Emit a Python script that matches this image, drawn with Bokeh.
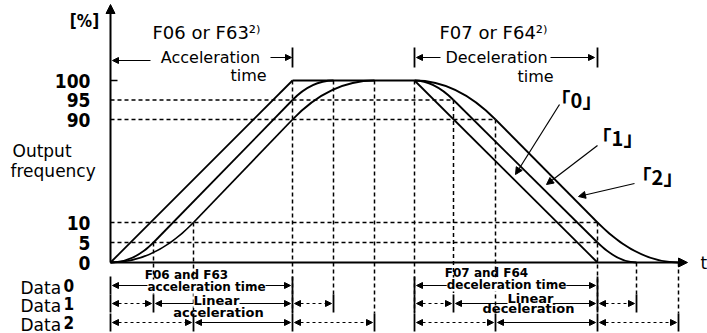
import numpy as np
from bokeh.plotting import figure
from bokeh.models import Range1d, Label, Arrow, NormalHead
from bokeh.core.properties import value
from bokeh.embed import file_html
from bokeh.resources import INLINE

# ---------------- data ----------------
# output-frequency ticks (percent) on the broken vertical axis
pct_ticks = [0, 5, 10, 90, 95, 100]
pct_labels = ["0", "5", "10", "90", "95", "100"]
# broken-axis scale: percent -> drawing units (lower band, gap, upper band)
scale_pct = [0, 10, 90, 100]
scale_units = [0, 40, 143, 182]

# time knots of each characteristic (Data 0 / 1 / 2) and their percent values
acc0_t, acc0_pct = [0, 182], [0, 100]
acc1_t, acc1_pct = [0, 43, 182, 223], [0, 5, 95, 100]
acc2_t, acc2_pct = [0, 83, 182, 264], [0, 10, 90, 100]
dec0_t, dec0_pct = [304, 487], [100, 0]
dec1_t, dec1_pct = [304, 343, 487, 526], [100, 95, 5, 0]
dec2_t, dec2_pct = [304, 385, 487, 568], [100, 90, 10, 0]

row_names = ["Data", "Data", "Data"]
row_digits = ["0", "1", "2"]
curve_tags = ["「0」", "「1」", "「2」"]

# ---------------- helpers ----------------
def Y(pc):
    return float(np.interp(pc, scale_pct, scale_units))

SANS = "DejaVu Sans"
NARROW = "DejaVu Sans Condensed, Roboto"

p = figure(width=707, height=333, x_range=Range1d(-110, 597), y_range=Range1d(-71, 262),
           output_backend="svg", toolbar_location=None, min_border=0)
p.xaxis.visible = False
p.yaxis.visible = False
p.grid.visible = False
p.outline_line_color = None
p.background_fill_color = "white"
p.border_fill_color = "white"

LW = 1.8
DASH = "4 3"

def draw_curve(ts, ps):
    ys = [Y(v) for v in ps]
    if len(ts) == 2:
        p.line(ts, ys, line_color="black", line_width=LW)
        return
    a, b, c, d = ts
    y0, y1, y2, y3 = ys
    slope = (y2 - y1) / (c - b)
    p.line([b, c], [y1, y2], line_color="black", line_width=LW)
    p.quadratic(x0=[a], y0=[y0], x1=[b], y1=[y1], cx=[b - (y1 - y0) / slope], cy=[y0],
                line_color="black", line_width=LW)
    p.quadratic(x0=[c], y0=[y2], x1=[d], y1=[y3], cx=[c + (y3 - y2) / slope], cy=[y3],
                line_color="black", line_width=LW)

rows_y = [-23, -41, -60]
curves = [(acc0_t, acc0_pct, dec0_t, dec0_pct),
          (acc1_t, acc1_pct, dec1_t, dec1_pct),
          (acc2_t, acc2_pct, dec2_t, dec2_pct)]

# ---- dashed guide lines ----
vert = {}
horiz = {}
for k, (at, ap, dt, dp) in enumerate(curves):
    for ts, ps in ((at, ap), (dt, dp)):
        for t, pc in zip(ts, ps):
            if t == 0:
                continue
            top, bot = vert.get(t, (-1e9, 1e9))
            vert[t] = (max(top, Y(pc)), min(bot, rows_y[k] + 9))
            if pc not in (0, 100):
                horiz[pc] = max(horiz.get(pc, 0), t)
for t, (top, bot) in vert.items():
    p.line([t, t], [top, bot], line_color="black", line_width=1.5, line_dash=DASH)
for pc, t in horiz.items():
    p.line([0, t], [Y(pc), Y(pc)], line_color="black", line_width=1.5, line_dash=DASH)

# ---- curves ----
for at, ap, dt, dp in curves:
    draw_curve(at, ap)
    draw_curve(dt, dp)
p.line([acc0_t[-1], dec0_t[0]], [Y(100), Y(100)], line_color="black", line_width=LW)

# ---- axes (drawn) ----
p.add_layout(Arrow(x_start=0, y_start=0, x_end=0, y_end=258, line_width=2,
                   end=NormalHead(size=9, fill_color="black", line_color="black")))
p.add_layout(Arrow(x_start=0, y_start=0, x_end=577, y_end=0, line_width=2,
                   end=NormalHead(size=9, fill_color="black", line_color="black")))
p.line([0, 7], [Y(100), Y(100)], line_color="black", line_width=1.5)
p.text(x=[-20] * len(pct_ticks), y=[Y(v) for v in pct_ticks], text=pct_labels,
       text_align="right", text_baseline="middle", text_font=value(NARROW),
       text_font_style="bold", text_font_size="19px", text_color="black")
p.text(x=[590], y=[0], text=["t"], text_align="left", text_baseline="middle",
       text_font=value(SANS), text_font_size="17px", text_color="black")

def harrow(x0, x1, y, dashed=False, both=True, lw=1.2):
    kw = dict(x_start=x0, y_start=y, x_end=x1, y_end=y, line_width=lw,
              end=NormalHead(size=6, fill_color="black", line_color="black", line_width=1))
    if both:
        kw["start"] = NormalHead(size=6, fill_color="black", line_color="black", line_width=1)
    else:
        kw["start"] = None
    if dashed:
        kw["line_dash"] = "3 3"
    p.add_layout(Arrow(**kw))

def bar(x, y, h=9):
    p.line([x, x], [y - h, y + h], line_color="black", line_width=1.8)

# ---- rows (Data0 / Data1 / Data2) ----
for k, (at, ap, dt, dp) in enumerate(curves):
    ry = rows_y[k]
    for ts in (at, dt):
        for t in ts:
            bar(t, ry)
        if len(ts) == 2:
            harrow(ts[0] + 2, ts[1] - 2, ry)
        else:
            harrow(ts[0] + 2, ts[1] - 2, ry, dashed=True)
            harrow(ts[1] + 2, ts[2] - 2, ry)
            harrow(ts[2] + 2, ts[3] - 2, ry, dashed=True)

def lab(x, y, text, size="12px", bold=True, font=SANS, align="center", bg=False, **extra):
    kw = dict(x=x, y=y, text=text, text_font=font, text_font_size=size,
              text_font_style="bold" if bold else "normal", text_align=align,
              text_baseline="middle", text_color="black")
    if bg:
        kw.update(background_fill_color="white", background_fill_alpha=1.0)
    kw.update(extra)
    p.add_layout(Label(**kw))

lab(76, rows_y[0] + 11, "F06 and F63", "12px")
lab(96, rows_y[0] - 1, "acceleration time", "12px", bg=True)
lab(376, rows_y[0] + 13, "F07 and F64", "12px")
lab(396, rows_y[0] + 1, "deceleration time", "12px", bg=True)
lab(106, rows_y[1] + 3, "Linear", "13px", bg=True)
lab(108, rows_y[1] - 9, "acceleration", "13px")
lab(420, rows_y[1] + 5, "Linear", "13px", bg=True)
lab(418, rows_y[1] - 5, "deceleration", "13px")

# ---- top annotations ----
lab(96, 230, "F06 or F63²⁾", "18px", bold=False)
lab(100, 205, "Acceleration", "16px", bold=False)
lab(138, 187, "time", "16px", bold=False)
harrow(40, 2, 202, both=False, lw=1)
harrow(160, acc0_t[-1] - 1, 205, both=False, lw=1)
p.line([acc0_t[-1], acc0_t[-1]], [195, 215], line_color="black", line_width=1.8)

lab(383, 230, "F07 or F64²⁾", "18px", bold=False)
lab(386, 205, "Deceleration", "16px", bold=False)
lab(425, 186, "time", "16px", bold=False)
p.line([dec0_t[0], dec0_t[0]], [195, 215], line_color="black", line_width=1.8)
harrow(330, dec0_t[0] + 2, 205, both=False, lw=1)
harrow(440, dec0_t[-1] - 3, 205, both=False, lw=1)
p.line([dec0_t[-1], dec0_t[-1]], [195, 215], line_color="black", line_width=1.8)

# ---- curve tags with leaders ----
tag_pos = [(466, 163), (507, 125), (547, 86)]
leader = [((449, 158), (405, 88)), ((487, 117), (436, 78)), ((524, 79), (468, 66))]
for tag, (tx, ty), ((x0, y0), (x1, y1)) in zip(curve_tags, tag_pos, leader):
    lab(tx, ty, tag, "20px", font="Noto Sans CJK JP")
    p.add_layout(Arrow(x_start=x0, y_start=y0, x_end=x1, y_end=y1, line_width=1.2,
                       end=NormalHead(size=7, fill_color="black", line_color="black")))

# ---- left side texts ----
lab(-26, 242, "[%]", "17px", font=NARROW)
lab(-98, 112, "Output", "17px", bold=False, align="left")
lab(-100, 92, "frequency", "17px", bold=False, align="left")
for k in range(3):
    lab(-90, rows_y[k] - 2, row_names[k], "17px", bold=False, align="left")
    lab(-47, rows_y[k], row_digits[k], "17px", font=NARROW, align="left")

open("out.html", "w").write(file_html(p, INLINE))
